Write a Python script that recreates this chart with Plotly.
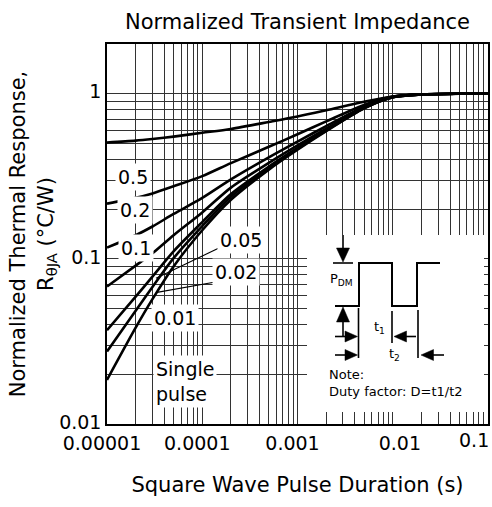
import numpy as np
import plotly.graph_objects as go

# Pulse duration samples (s)
t = [1e-5, 2e-5, 3e-5, 5e-5, 1e-4, 2e-4, 5e-4, 1e-3, 2e-3, 5e-3, 1e-2, 2e-2, 5e-2, 1e-1]

# Normalized thermal response for each duty factor
z_d050 = [0.507, 0.52, 0.532, 0.55, 0.58, 0.612, 0.674, 0.727, 0.793, 0.893, 0.962, 0.99, 1.0, 1.0]
z_d020 = [0.216, 0.234, 0.249, 0.275, 0.317, 0.38, 0.477, 0.568, 0.68, 0.855, 0.96, 0.99, 1.0, 1.0]
z_d010 = [0.117, 0.139, 0.157, 0.187, 0.234, 0.303, 0.412, 0.513, 0.636, 0.835, 0.957, 0.99, 1.0, 1.0]
z_d005 = [0.068, 0.091, 0.108, 0.139, 0.191, 0.27, 0.381, 0.486, 0.614, 0.825, 0.954, 0.99, 1.0, 1.0]
z_d002 = [0.037, 0.059, 0.078, 0.111, 0.167, 0.247, 0.362, 0.47, 0.602, 0.82, 0.953, 0.99, 1.0, 1.0]
z_d001 = [0.0275, 0.0485, 0.0675, 0.101, 0.158, 0.238, 0.355, 0.464, 0.598, 0.817, 0.953, 0.99, 1.0, 1.0]
z_single = [0.0185, 0.0383, 0.057, 0.090, 0.149, 0.228, 0.347, 0.458, 0.593, 0.815, 0.952, 0.99, 1.0, 1.0]

series = [z_d050, z_d020, z_d010, z_d005, z_d002, z_d001, z_single]

# Curve labels
curve_labels = ["0.5", "0.2", "0.1", "0.05", "0.02", "0.01", "Single<br>pulse"]

# Leader lines from the 0.05 and 0.02 labels
lead_005_t = [1.46e-4, 3.27e-5]
lead_005_z = [0.1157, 0.0762]
lead_002_t = [1.33e-4, 3.35e-5]
lead_002_z = [0.0721, 0.0627]

# Axis ticks
x_decades = [1e-5, 1e-4, 1e-3, 1e-2, 1e-1]
x_tick_text = ["0.00001", "0.0001", "0.001", "0.01", "0.1"]
y_decades = [0.01, 0.1, 1]
y_tick_text = ["0.01", "0.1", "1"]

FONT = "DejaVu Sans"
GRID = "#333333"


def log_grid(decades):
    vals = []
    for d in decades[:-1]:
        for m in range(1, 10):
            vals.append(d * m)
    vals.append(decades[-1])
    return vals


def grid_text(vals, decades, labels):
    out = []
    for v in vals:
        hit = [lab for d, lab in zip(decades, labels) if abs(v / d - 1) < 1e-9]
        out.append(hit[0] if hit else "")
    return out


x_vals = log_grid(x_decades)
y_vals = log_grid(y_decades)

# the last x label sits flush with the right border, so it is placed as an
# annotation; the 0.01 label is nudged right of its gridline
x_axis_text = list(x_tick_text[:-1]) + [""]
x_axis_text[3] = "\u00a0\u00a0\u00a0\u00a0" + x_axis_text[3]

fig = go.Figure()

for z in series:
    fig.add_trace(go.Scatter(
        x=t, y=z, mode="lines",
        line=dict(color="black", width=2.6, shape="spline", smoothing=0.8),
        hoverinfo="skip",
    ))

for lt, lz in [(lead_005_t, lead_005_z), (lead_002_t, lead_002_z)]:
    fig.add_trace(go.Scatter(
        x=lt, y=lz, mode="lines",
        line=dict(color="black", width=1.1), hoverinfo="skip",
    ))

# ---- inset: duty-cycle pulse diagram (drawn in its own pixel-like frame) ----
ins = dict(xaxis="x2", yaxis="y2", hoverinfo="skip", showlegend=False)

# white panel behind the diagram
fig.add_trace(go.Scatter(
    x=[307, 484, 484, 307, 307], y=[412, 412, 235, 235, 412],
    mode="lines", fill="toself", fillcolor="white", line=dict(width=0), **ins))

# square wave
fig.add_trace(go.Scatter(
    x=[335, 359, 359, 392, 392, 417, 417, 440],
    y=[306, 306, 263, 263, 306, 306, 263, 263],
    mode="lines", line=dict(color="black", width=2), **ins))

# peak-level reference line and arrow shafts
seg_x = [333, 353, None, 343, 343, None, 343, 343, None,
         335, 347, None, 406, 416, None, 335, 347, None, 433, 444]
seg_y = [263, 263, None, 233, 249, None, 321, 337, None,
         336.5, 336.5, None, 336.5, 336.5, None, 355, 355, None, 355, 355]
fig.add_trace(go.Scatter(x=seg_x, y=seg_y, mode="lines",
                         line=dict(color="black", width=1.6), **ins))

# timing extension lines
ext_x = [358.5, 358.5, None, 392, 392, None, 418, 418]
ext_y = [308, 358, None, 311, 343, None, 310, 358]
fig.add_trace(go.Scatter(x=ext_x, y=ext_y, mode="lines",
                         line=dict(color="black", width=1.6), **ins))

# arrow heads
heads = [
    [(343, 262), (336.5, 248), (349.5, 248)],      # down
    [(343, 307), (336.5, 322), (349.5, 322)],      # up
    [(357.5, 336.5), (345, 331), (345, 342)],      # right (t1)
    [(394, 336.5), (406.5, 331), (406.5, 342)],    # left (t1)
    [(357.5, 355), (345, 349.5), (345, 360.5)],    # right (t2)
    [(421, 355), (433.5, 349.5), (433.5, 360.5)],  # left (t2)
]
hx, hy = [], []
for tri in heads:
    for px, py in tri + [tri[0]]:
        hx.append(px)
        hy.append(py)
    hx.append(None)
    hy.append(None)
fig.add_trace(go.Scatter(x=hx, y=hy, mode="lines", fill="toself",
                         fillcolor="black", line=dict(color="black", width=0.5), **ins))

# ---- curve labels ----
label_pos = [
    (-4.727, -0.5015), (-4.706, -0.707), (-4.696, -0.9366),
    (-3.593, -0.888), (-3.646, -1.0816), (-4.286, -1.3595), (-4.517, -1.74),
]
annotations = []
for txt, (lx, ly) in zip(curve_labels, label_pos):
    single = "<br>" in txt
    annotations.append(dict(
        x=lx, y=ly, xref="x", yref="y", text=txt, showarrow=False,
        xanchor="left" if single else "center", yanchor="middle",
        align="left", bgcolor="white", borderpad=2,
        font=dict(family=FONT, size=19, color="black"),
    ))

# right-most x tick label
annotations.append(dict(
    x=np.log10(x_decades[-1]), y=0, xref="x", yref="paper",
    text=x_tick_text[-1], showarrow=False, xanchor="right", yanchor="middle",
    xshift=3, yshift=-16, font=dict(family=FONT, size=19, color="black"),
))

inset_text = [
    ("P<sub>DM</sub>", 328, 279, "left"),
    ("t<sub>1</sub>", 372, 327, "left"),
    ("t<sub>2</sub>", 387, 354, "left"),
    ("Note:", 327, 374, "left"),
    ("Duty factor: D=t1/t2", 327, 391, "left"),
]
for txt, ix, iy, anc in inset_text:
    annotations.append(dict(
        x=ix, y=iy, xref="x2", yref="y2", text=txt, showarrow=False,
        xanchor=anc, yanchor="middle",
        font=dict(family=FONT, size=13, color="black"),
    ))

W, H = 492, 507
L, R, T, B = 107, 4, 44, 83
pw, ph = W - L - R, H - T - B

axis_common = dict(
    type="log", showgrid=True, gridcolor=GRID, gridwidth=1,
    showline=True, linecolor="black", linewidth=1.5, mirror=True,
    ticks="", zeroline=False,
    tickfont=dict(family=FONT, size=19, color="black"),
)

fig.update_layout(
    width=W, height=H,
    margin=dict(l=L, r=R, t=T, b=B, autoexpand=False),
    paper_bgcolor="white", plot_bgcolor="white",
    showlegend=False,
    font=dict(family=FONT, color="black"),
    title=dict(text="Normalized Transient Impedance", x=0.5, xref="paper",
               y=1 - 22 / H, yref="container", yanchor="middle", xanchor="center",
               font=dict(family=FONT, size=21, color="black")),
    xaxis=dict(range=[-5, -1], tickvals=x_vals,
               ticktext=grid_text(x_vals, x_decades, x_axis_text),
               ticklabelshift=-5, ticklabelstandoff=1,
               title=dict(text="Square Wave Pulse Duration (s)", standoff=25,
                          font=dict(family=FONT, size=21, color="black")),
               **axis_common),
    yaxis=dict(range=[-2, np.log10(2)], tickvals=y_vals,
               ticktext=grid_text(y_vals, y_decades, y_tick_text),
               ticklabelshift=-2,
               title=dict(text="Normalized Thermal Response,<br>R<sub>θJA</sub> (°C/W)",
                          standoff=0, font=dict(family=FONT, size=21, color="black")),
               **axis_common),
    xaxis2=dict(domain=[(307 - L) / pw, (484 - L) / pw], range=[307, 484],
                visible=False, anchor="y2", fixedrange=True),
    yaxis2=dict(domain=[(H - B - 412) / ph, (H - B - 235) / ph], range=[412, 235],
                visible=False, anchor="x2", fixedrange=True),
    annotations=annotations,
)

fig.write_html("out.html")
